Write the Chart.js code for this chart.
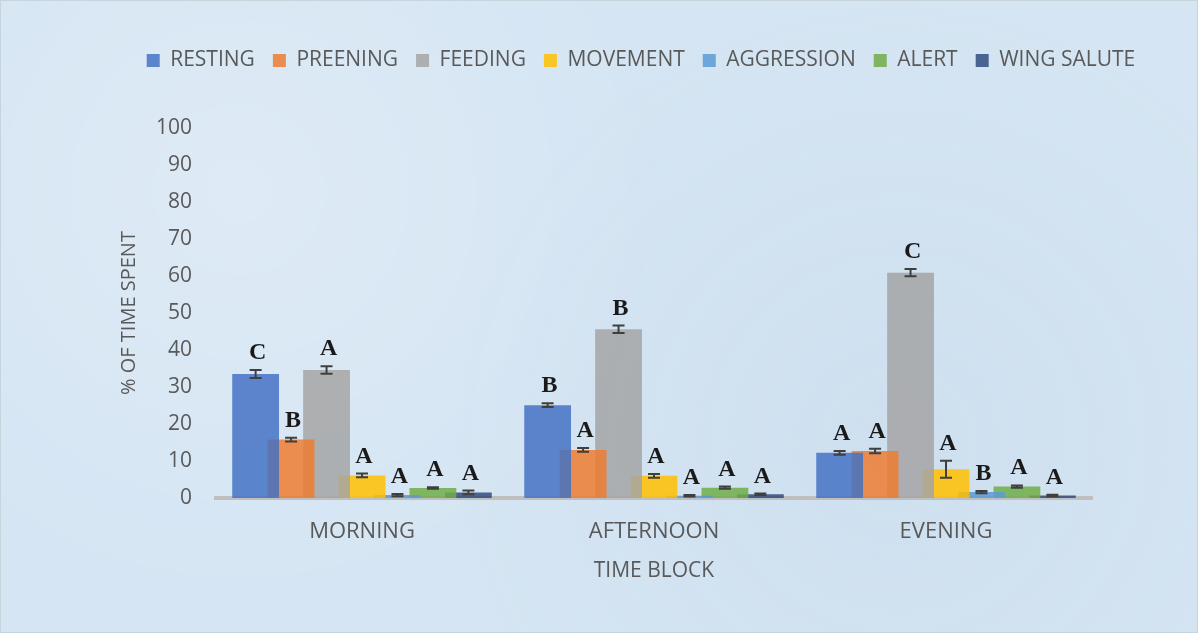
<!DOCTYPE html>
<html>
<head>
<meta charset="utf-8">
<script src="https://cdn.jsdelivr.net/npm/chart.js@4"></script>
<style>
html,body{margin:0;padding:0;}
body{width:1198px;height:633px;overflow:hidden;
background:#d5e5f3;
background-image:radial-gradient(circle at 20% 30%, rgba(255,255,255,0.22), rgba(255,255,255,0) 40%),
radial-gradient(circle at 75% 70%, rgba(190,210,230,0.3), rgba(255,255,255,0) 45%);}
#wrap{position:absolute;left:0;top:0;width:1198px;height:633px;box-sizing:border-box;border:1px solid #c9d3dc;}
canvas{display:block;}
</style>
</head>
<body>
<div id="wrap"><canvas id="c" width="1198" height="633"></canvas></div>
<script>
const categories = ["MORNING", "AFTERNOON", "EVENING"];
const seriesNames = ["RESTING", "PREENING", "FEEDING", "MOVEMENT", "AGGRESSION", "ALERT", "WING SALUTE"];
const resting    = [33.5, 25.1, 12.2];
const preening   = [15.8, 13.0, 12.7];
const feeding    = [34.6, 45.6, 60.9];
const movement   = [6.1, 6.0, 7.8];
const aggression = [0.8, 0.6, 1.6];
const alert_     = [2.7, 2.8, 3.1];
const wingSalute = [1.5, 1.0, 0.7];
const restingErr    = [1.1, 0.5, 0.5];
const preeningErr   = [0.5, 0.5, 0.6];
const feedingErr    = [1.0, 1.0, 1.0];
const movementErr   = [0.5, 0.5, 2.3];
const aggressionErr = [0.3, 0.2, 0.3];
const alertErr      = [0.2, 0.3, 0.3];
const wingSaluteErr = [0.5, 0.2, 0.2];
const restingSig    = ["C", "B", "A"];
const preeningSig   = ["B", "A", "A"];
const feedingSig    = ["A", "B", "C"];
const movementSig   = ["A", "A", "A"];
const aggressionSig = ["A", "A", "B"];
const alertSig      = ["A", "A", "A"];
const wingSaluteSig = ["A", "A", "A"];
const yTicks = [0,10,20,30,40,50,60,70,80,90,100];

const colors = ["rgba(68,114,196,0.85)","rgba(237,125,49,0.85)","rgba(165,165,165,0.85)","rgba(255,192,0,0.85)","rgba(91,155,213,0.85)","rgba(112,173,71,0.85)","rgba(38,68,120,0.8)"];
const values = [resting, preening, feeding, movement, aggression, alert_, wingSalute];
const errs = [restingErr, preeningErr, feedingErr, movementErr, aggressionErr, alertErr, wingSaluteErr];
const sigs = [restingSig, preeningSig, feedingSig, movementSig, aggressionSig, alertSig, wingSaluteSig];

const datasets = seriesNames.map((n,i)=>({
  label:n, data:values[i], backgroundColor:colors[i], borderWidth:0,
  errors:errs[i], sig:sigs[i],
  categoryPercentage:0.85, barPercentage:1.32
}));

const FONT = "'Open Sans', sans-serif";
const TEXT = "#595959";

const layoutPatch = {
  id:'layoutPatch',
  beforeLayout(chart){
    const lg = chart.legend;
    if (lg && !lg._patched){
      const f = lg.fit.bind(lg);
      lg.fit = function(){ f(); this.height = 96; };
      lg._patched = true;
    }
  },
  afterLayout(chart){
    const lg = chart.legend;
    if (lg){
      const center = (lg.left + lg.right) / 2;
      const dx = 640 - center;
      lg.left += dx; lg.right += dx;
    }
  }
};

const errorBars = {
  id:'errorBars',
  afterDatasetsDraw(chart){
    const ctx = chart.ctx;
    const ys = chart.scales.y;
    chart.data.datasets.forEach((ds, di)=>{
      const meta = chart.getDatasetMeta(di);
      meta.data.forEach((el, i)=>{
        const v = ds.data[i], e = ds.errors[i];
        const yt = ys.getPixelForValue(v+e), yb = ys.getPixelForValue(v-e);
        const x = el.x;
        ctx.save();
        ctx.strokeStyle = "#3f3f3f";
        ctx.lineWidth = 2;
        ctx.beginPath();
        ctx.moveTo(x, yt); ctx.lineTo(x, yb);
        ctx.moveTo(x-6, yt); ctx.lineTo(x+6, yt);
        ctx.moveTo(x-6, yb); ctx.lineTo(x+6, yb);
        ctx.stroke();
        ctx.fillStyle = "#1a1a1a";
        ctx.font = "bold 24px 'Liberation Serif', serif";
        ctx.textAlign = "center";
        ctx.textBaseline = "alphabetic";
        ctx.fillText(ds.sig[i], x+2, yt-11);
        ctx.restore();
      });
    });
  }
};

new Chart(document.getElementById('c'), {
  type:'bar',
  data:{labels:categories, datasets},
  plugins:[layoutPatch, errorBars],
  options:{
    responsive:false, animation:false,
    layout:{padding:{left:0, right:107, top:31, bottom:0}},
    plugins:{
      legend:{position:'top', align:'center',
        labels:{boxWidth:13, boxHeight:13, padding:18, color:TEXT, font:{family:FONT, size:21}}},
      tooltip:{enabled:false}
    },
    scales:{
      x:{
        grid:{display:false, drawTicks:false},
        border:{display:true, color:"#bfbfbf", width:4},
        ticks:{color:TEXT, padding:21, font:{family:FONT, size:22}},
        title:{display:true, text:"TIME BLOCK", color:TEXT, font:{family:FONT, size:21}, padding:{top:10, bottom:50}},
        afterFit(s){ s.height = 136; }
      },
      y:{
        min:0, max:100,
        afterBuildTicks(s){ s.ticks = yTicks.map(v=>({value:v})); },
        grid:{display:false, drawTicks:false},
        border:{display:false},
        ticks:{color:TEXT, padding:24, font:{family:FONT, size:21}},
        title:{display:true, text:"% OF TIME SPENT", color:TEXT, font:{family:FONT, size:20}, padding:{top:116, bottom:0}},
        afterFit(s){ s.width = 215; }
      }
    }
  }
});
</script>
</body>
</html>
